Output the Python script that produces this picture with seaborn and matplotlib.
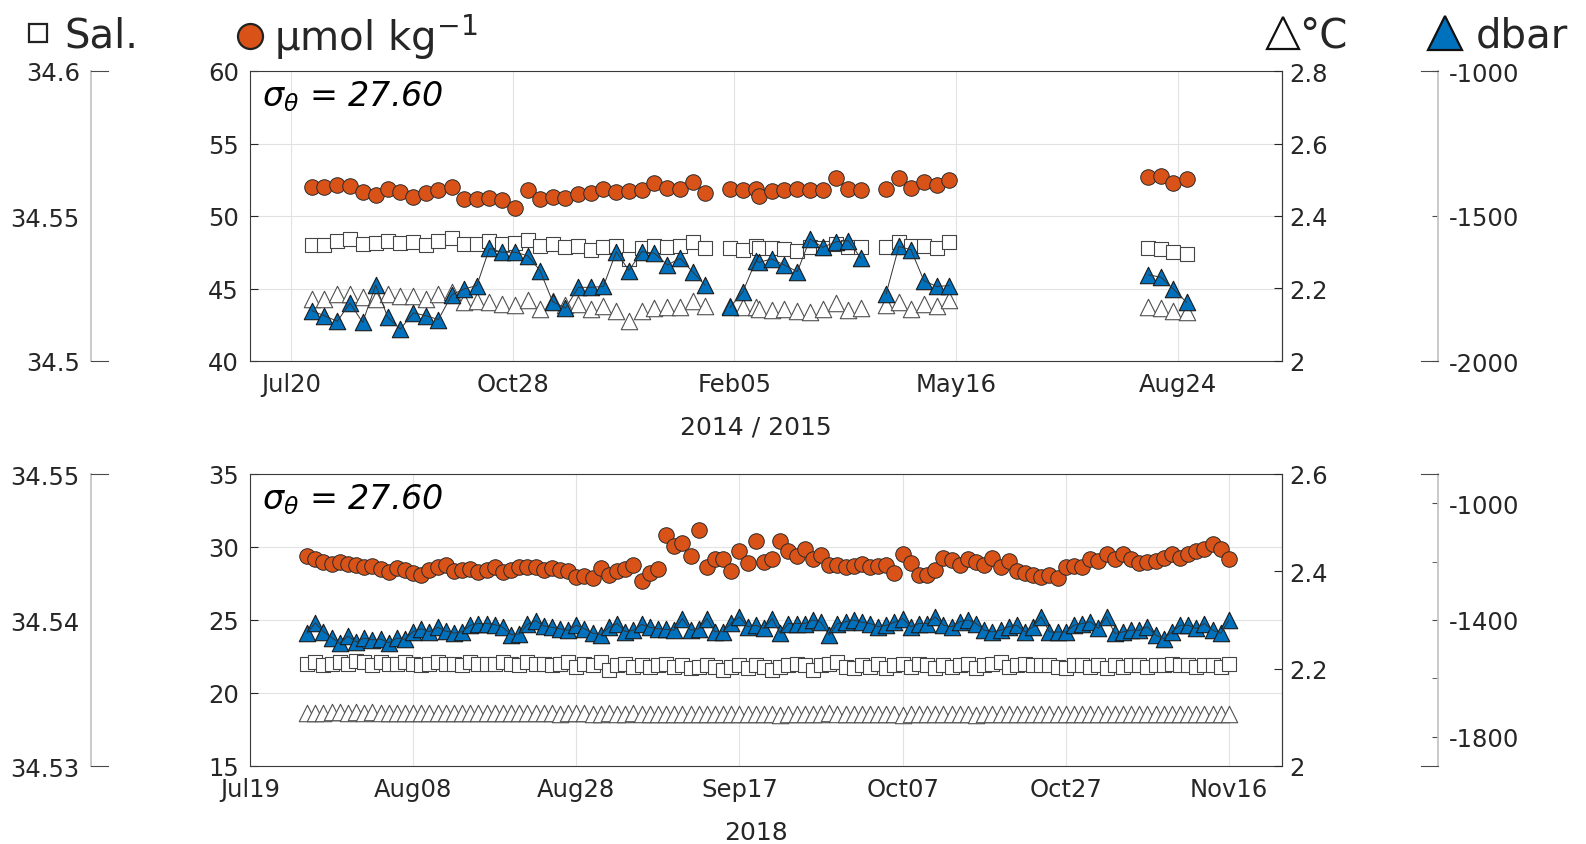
import numpy as np
import pandas as pd
import matplotlib.pyplot as plt
import matplotlib.dates as mdates
from matplotlib.lines import Line2D
from matplotlib.ticker import FormatStrFormatter
import seaborn as sns

# ---------------- 2014 / 2015 record (days after 2014-07-20) ----------------
top_days = [9.3, 15.0, 20.9, 26.6, 32.3, 38.2, 43.6, 49.3, 55.2, 60.9, 66.5, 72.5, 77.9, 83.8,
            89.5, 95.3, 101.2, 106.8, 112.3, 118.0, 123.8, 129.6, 135.2, 140.9, 146.7, 152.4,
            158.2, 163.9, 169.8, 175.5, 181.1, 186.7,
            198.0, 203.7, 209.7, 211.2, 216.8, 222.5, 228.4, 234.1, 239.8, 245.8, 251.4, 257.1,
            268.4, 274.2, 279.6, 285.5, 291.2, 296.9,
            386.7, 392.4, 398.0, 404.0]
top_o2 = [52.02, 52.02, 52.11, 52.09, 51.68, 51.45, 51.84, 51.68, 51.31, 51.61, 51.79, 52.02,
          51.20, 51.20, 51.26, 51.10, 50.57, 51.77, 51.20, 51.31, 51.24, 51.54, 51.59, 51.84,
          51.68, 51.72, 51.77, 52.25, 51.91, 51.89, 52.34, 51.61,
          51.89, 51.77, 51.89, 51.38, 51.70, 51.77, 51.89, 51.77, 51.79, 52.64, 51.84, 51.77,
          51.84, 52.60, 51.95, 52.34, 52.11, 52.46,
          52.71, 52.76, 52.30, 52.57]
top_sal = [34.5399, 34.5399, 34.5415, 34.5421, 34.5403, 34.5408, 34.5415, 34.5407, 34.5409,
           34.5400, 34.5415, 34.5424, 34.5403, 34.5403, 34.5415, 34.5403, 34.5406, 34.5418,
           34.5396, 34.5403, 34.5394, 34.5396, 34.5384, 34.5392, 34.5396, 34.5352, 34.5389,
           34.5396, 34.5394, 34.5397, 34.5411, 34.5389,
           34.5389, 34.5384, 34.5396, 34.5389, 34.5389, 34.5386, 34.5380, 34.5392, 34.5389,
           34.5403, 34.5392, 34.5394,
           34.5392, 34.5411, 34.5396, 34.5396, 34.5389, 34.5409,
           34.5390, 34.5386, 34.5377, 34.5369]
top_temp = [2.171, 2.171, 2.185, 2.185, 2.176, 2.171, 2.185, 2.180, 2.180, 2.171, 2.185, 2.190,
            2.164, 2.166, 2.164, 2.157, 2.155, 2.169, 2.143, 2.166, 2.155, 2.157, 2.143, 2.153,
            2.139, 2.111, 2.139, 2.145, 2.148, 2.148, 2.166, 2.153,
            2.153, 2.148, 2.148, 2.143, 2.141, 2.143, 2.139, 2.136, 2.143, 2.160, 2.141, 2.146,
            2.155, 2.162, 2.143, 2.157, 2.153, 2.169,
            2.148, 2.145, 2.139, 2.134]
top_pres = [-1826, -1844, -1863, -1800, -1867, -1738, -1849, -1890, -1834, -1844, -1857, -1772,
            -1752, -1740, -1612, -1625, -1625, -1637, -1688, -1795, -1818, -1746, -1746, -1743,
            -1623, -1688, -1623, -1628, -1669, -1646, -1692, -1738,
            -1815, -1763, -1654, -1660, -1648, -1669, -1692, -1579, -1608, -1589, -1585, -1646,
            -1769, -1605, -1616, -1723, -1743, -1740,
            -1703, -1711, -1752, -1798]

# ---------------- 2018 record (daily, from 2018-07-26) ----------------
bot_start = '2018-07-26'
bot_o2 = [29.4, 29.15, 29.0, 28.85, 28.95, 28.85, 28.75, 28.6, 28.7, 28.5,
          28.3, 28.55, 28.4, 28.2, 28.05, 28.45, 28.6, 28.75, 28.35, 28.45,
          28.5, 28.3, 28.45, 28.6, 28.3, 28.4, 28.65, 28.65, 28.6, 28.4,
          28.55, 28.4, 28.35, 27.95, 28.0, 27.85, 28.55, 28.05, 28.35, 28.5,
          28.75, 27.65, 28.2, 28.5, 30.85, 30.05, 30.3, 29.4, 31.15, 28.6,
          29.15, 29.2, 28.35,
          29.75, 28.9, 30.4, 28.95, 29.15, 30.4, 29.75, 29.35, 29.85, 29.2,
          29.45, 28.8, 28.75, 28.65, 28.7, 28.85, 28.6, 28.7, 28.8, 28.2,
          29.5, 28.9, 28.1, 28.05, 28.45, 29.25, 29.1, 28.8, 29.15, 28.95,
          28.8, 29.25, 28.6, 29.05, 28.35, 28.2, 28.05, 27.95, 28.05, 27.9,
          28.6, 28.7, 28.6, 29.15, 29.05, 29.55, 29.2, 29.5, 29.15, 28.9,
          28.95, 29.05, 29.25, 29.5, 29.25, 29.5, 29.75, 29.85, 30.2, 29.85,
          29.15]
bot_sal = [34.5370, 34.5371, 34.5369, 34.5370, 34.5371, 34.5370, 34.5372, 34.5371, 34.5369, 34.5371,
           34.5370, 34.5370, 34.5371, 34.5370, 34.5369, 34.5370, 34.5371, 34.5370, 34.5370, 34.5369,
           34.5371, 34.5370, 34.5370, 34.5370, 34.5371, 34.5370, 34.5369, 34.5371, 34.5370, 34.5370,
           34.5369, 34.5370, 34.5371, 34.5368, 34.5370, 34.5369, 34.5371, 34.5366, 34.5369, 34.5370,
           34.5368, 34.5369, 34.5368, 34.5369, 34.5370, 34.5368, 34.5369, 34.5367, 34.5368, 34.5369,
           34.5368, 34.5366, 34.5368, 34.5369, 34.5367, 34.5369, 34.5368, 34.5366, 34.5368, 34.5369,
           34.5370, 34.5369, 34.5366, 34.5369, 34.5370, 34.5371, 34.5368, 34.5367, 34.5369, 34.5368,
           34.5370, 34.5367, 34.5369, 34.5370, 34.5368, 34.5370, 34.5369, 34.5367, 34.5369, 34.5368,
           34.5369, 34.5370, 34.5367, 34.5369, 34.5370, 34.5371, 34.5368, 34.5369, 34.5370, 34.5369,
           34.5369, 34.5369, 34.5368, 34.5367, 34.5369, 34.5369, 34.5368, 34.5369, 34.5367, 34.5369,
           34.5368, 34.5369, 34.5369, 34.5368, 34.5369, 34.5369, 34.5370, 34.5369, 34.5369, 34.5368,
           34.5369, 34.5369, 34.5368, 34.5370]
bot_temp = [2.108, 2.109, 2.109, 2.110, 2.110, 2.109, 2.110, 2.109, 2.110, 2.109,
            2.109, 2.108, 2.109, 2.109, 2.108, 2.109, 2.109, 2.108, 2.108, 2.109,
            2.108, 2.108, 2.109, 2.108, 2.108, 2.108, 2.109, 2.108, 2.108, 2.108,
            2.108, 2.107, 2.108, 2.108, 2.108, 2.107, 2.107, 2.108, 2.107, 2.107,
            2.108, 2.107, 2.107, 2.106, 2.106, 2.107, 2.106, 2.106, 2.107, 2.107,
            2.106, 2.107, 2.106, 2.107, 2.107, 2.106, 2.107, 2.106, 2.105, 2.107,
            2.107, 2.106, 2.107, 2.106, 2.109, 2.107, 2.106, 2.107, 2.106, 2.107,
            2.107, 2.106, 2.107, 2.104, 2.107, 2.106, 2.106, 2.107, 2.107, 2.106,
            2.106, 2.106, 2.105, 2.106, 2.106, 2.107, 2.106, 2.107, 2.106, 2.107,
            2.107, 2.106, 2.107, 2.107, 2.106, 2.107, 2.107, 2.106, 2.107, 2.107,
            2.106, 2.107, 2.106, 2.107, 2.106, 2.107, 2.106, 2.107, 2.107, 2.106,
            2.107, 2.106, 2.107, 2.107]
bot_pres = [-1445, -1410, -1440, -1460, -1480, -1455, -1475, -1462, -1468, -1465, -1478, -1462,
            -1466, -1440, -1430,
            -1440, -1425, -1438, -1445, -1440, -1418, -1412, -1412, -1416, -1425, -1450, -1448,
            -1415, -1402, -1420, -1425,
            -1430, -1435, -1418, -1430, -1445, -1450, -1425, -1412, -1440, -1435, -1415, -1425,
            -1430, -1432, -1435,
            -1395, -1435, -1430, -1395, -1440, -1440, -1410,
            -1389, -1423, -1418, -1429, -1395, -1446, -1412, -1412, -1412, -1400, -1408, -1452,
            -1412, -1406, -1400, -1408, -1412, -1423, -1418, -1408, -1395, -1423, -1412, -1412,
            -1389, -1418, -1423, -1406, -1400, -1412, -1435, -1441, -1435, -1423, -1418, -1441,
            -1423, -1389, -1441, -1441, -1441, -1418, -1412, -1406, -1429, -1389, -1446, -1441,
            -1435, -1435, -1423, -1452, -1464, -1441, -1418, -1418, -1429, -1412, -1435, -1446,
            -1400]

ORANGE = '#D95319'
BLUE = '#0072BD'
DARK = '#262626'
W, H = 1586, 845

sns.set_style('white')
plt.rcParams['font.family'] = ['DejaVu Sans']
plt.rcParams['axes.unicode_minus'] = False

top = pd.DataFrame({'date': pd.Timestamp('2014-07-20') + pd.to_timedelta(top_days, unit='D'),
                    'o2': top_o2, 'sal': top_sal, 'temp': top_temp, 'pres': top_pres})
bot = pd.DataFrame({'date': pd.date_range(bot_start, periods=len(bot_o2), freq='D'),
                    'o2': bot_o2, 'sal': bot_sal, 'temp': bot_temp, 'pres': bot_pres})
# break the connecting line where the record has gaps
for df in (top, bot):
    df['seg'] = (df['date'].diff().dt.days.fillna(0) > 8).cumsum()

fig = plt.figure(figsize=(W / 100, H / 100), dpi=100)


def panel(df, ytop, ybot, o2_lim, o2_ticks, t_lim, t_ticks, s_lim, s_ticks, s_minor,
          p_lim, p_ticks, p_minor, xlim, xticks, xlabel):
    rect = [250 / W, 1 - ybot / H, 1032 / W, (ybot - ytop) / H]
    ax = fig.add_axes(rect)
    ax_t = ax.twinx()
    ax_s = ax.twinx()
    ax_p = ax.twinx()

    sns.scatterplot(data=df, x='date', y='o2', ax=ax, marker='o', s=125, color=ORANGE,
                    edgecolor='#2a2a2a', linewidth=0.7, legend=False, zorder=3)
    sns.scatterplot(data=df, x='date', y='temp', ax=ax_t, marker='^', s=140, color='white',
                    edgecolor='#505050', linewidth=0.8, legend=False)
    sns.scatterplot(data=df, x='date', y='sal', ax=ax_s, marker='s', s=95, color='white',
                    edgecolor='#444444', linewidth=0.8, legend=False)
    sns.lineplot(data=df, x='date', y='pres', units='seg', estimator=None, ax=ax_p,
                 color='#333333', lw=0.7, legend=False)
    sns.scatterplot(data=df, x='date', y='pres', ax=ax_p, marker='^', s=140, color=BLUE,
                    edgecolor='#1a1a1a', linewidth=0.8, legend=False)

    ax.set_xlim(pd.Timestamp(xlim[0]), pd.Timestamp(xlim[1]))
    ax.set_xticks(xticks)
    ax.xaxis.set_major_formatter(mdates.DateFormatter('%b%d'))
    ax.set_ylim(o2_lim)
    ax.set_yticks(o2_ticks)
    ax.grid(True, color='#E2E2E2', lw=0.8)
    ax.set_axisbelow(True)
    ax.tick_params(direction='in', length=6, color=DARK, labelsize=17.5, labelcolor=DARK,
                   pad=8, top=False, right=False)
    ax.set_ylabel('')
    ax.set_xlabel(xlabel, fontsize=18, color=DARK)
    ax.xaxis.set_label_coords((756 - 250) / 1032, -0.185)
    for sp in ax.spines.values():
        sp.set_color('#3a3a3a')
        sp.set_linewidth(0.8)

    ax_t.set_ylim(t_lim)
    ax_t.set_yticks(t_ticks)
    ax_t.yaxis.set_major_formatter(FormatStrFormatter('%g'))
    ax_t.tick_params(direction='in', length=6, color=DARK, labelsize=17.5, labelcolor=DARK, pad=5)
    ax_t.set_ylabel('')
    for k in ('left', 'top', 'bottom'):
        ax_t.spines[k].set_visible(False)
    ax_t.spines['right'].set_color('#3a3a3a')
    ax_t.spines['right'].set_linewidth(0.8)

    ax_s.set_ylim(s_lim)
    ax_p.set_ylim(p_lim)
    ax_s.axis('off')
    ax_p.axis('off')

    # detached scale bars for salinity (left) and pressure (right)
    ax_sl = fig.add_axes([91 / W, rect[1], 17 / W, rect[3]], sharey=ax_s)
    ax_pl = fig.add_axes([1421 / W, rect[1], 17 / W, rect[3]], sharey=ax_p)
    for a, side, other, ticks, minor in ((ax_sl, 'left', 'right', s_ticks, s_minor),
                                         (ax_pl, 'right', 'left', p_ticks, p_minor)):
        a.patch.set_visible(False)
        a.set_xticks([])
        a.spines[other].set_visible(False)
        a.spines[side].set_color('#C6C6C6')
        a.spines[side].set_linewidth(1.3)
        for k in ('top', 'bottom'):
            a.spines[k].set_color('#4a4a4a')
            a.spines[k].set_linewidth(0.8)
        if side == 'right':
            a.yaxis.tick_right()
        a.set_yticks(ticks)
        a.set_yticks(minor, minor=True)
        a.yaxis.set_major_formatter(FormatStrFormatter('%g'))
        a.tick_params(axis='y', which='both', direction='in', length=4, color='#4a4a4a',
                      labelsize=17.5, labelcolor=DARK, pad=8)
    ax_s.set_ylim(s_lim)
    ax_p.set_ylim(p_lim)

    ax.text(0.012, 0.975, r'$\sigma_\theta$ = 27.60', transform=ax.transAxes, fontsize=24,
            style='italic', va='top', ha='left', color='black')
    return ax


panel(top, 72, 362, (40, 60), [40, 45, 50, 55, 60], (2, 2.8), [2, 2.2, 2.4, 2.6, 2.8],
      (34.5, 34.6), [34.5, 34.55, 34.6], [],
      (-2000, -1000), [-2000, -1500, -1000], [],
      ('2014-07-01 12:00', '2015-10-10'),
      pd.date_range('2014-07-20', periods=5, freq='100D'), '2014 / 2015')
panel(bot, 475, 767, (15, 35), [15, 20, 25, 30, 35], (2, 2.6), [2, 2.2, 2.4, 2.6],
      (34.53, 34.55), [34.53, 34.54, 34.55], [34.535, 34.545],
      (-1900, -900), [-1800, -1400, -1000], [-1600, -1200],
      ('2018-07-19', '2018-11-22 12:00'),
      pd.date_range('2018-07-19', periods=7, freq='20D'), '2018')

# header keys
keys = [('s', 'white', '#222222', 13, 'Sal.', 26, 0.35),
        ('o', ORANGE, '#222222', 18, r'μmol kg$^{-1}$', 238, 0.3),
        ('^', 'white', '#111111', 23, '°C', 1271, 0.1),
        ('^', BLUE, '#111111', 25, 'dbar', 1433, 0.45)]
for mk, fc, ec, ms, lab, x0, pad in keys:
    h = Line2D([], [], ls='none', marker=mk, markersize=ms, markerfacecolor=fc,
               markeredgecolor=ec, markeredgewidth=1.6)
    fig.legend([h], [lab], loc='center left', bbox_to_anchor=(x0 / W, 1 - 37 / H),
               frameon=False, fontsize=29, handlelength=0.6, handletextpad=pad,
               borderpad=0, borderaxespad=0)

fig.savefig('out.png', dpi=100)
